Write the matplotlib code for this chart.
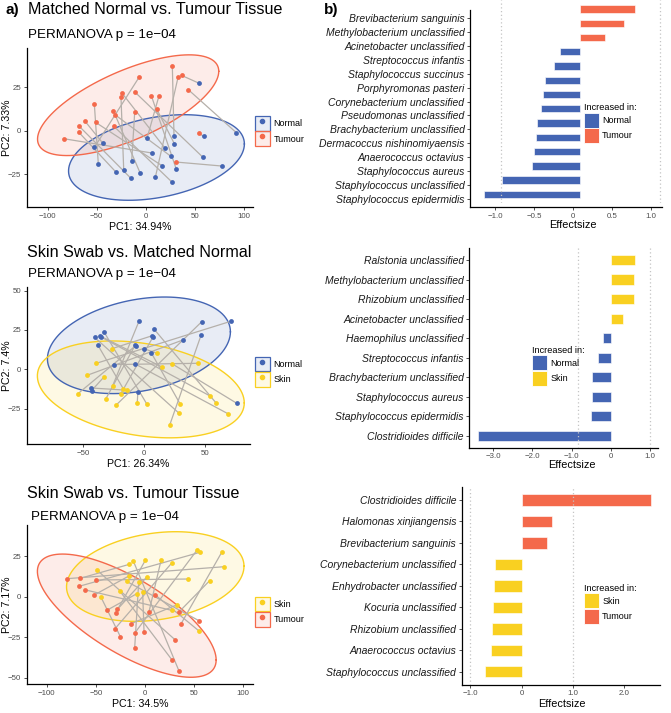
import numpy as np
import matplotlib
matplotlib.use('Agg')
import matplotlib.pyplot as plt
from matplotlib.patches import Patch
from matplotlib.lines import Line2D
from matplotlib.legend_handler import HandlerTuple
from matplotlib.colors import to_rgba

plt.rcParams['font.family'] = ['Liberation Sans', 'DejaVu Sans']

W, H = 671, 713

BLUE = '#4465b3'
RED = '#f4694b'
YELLOW = '#f9d021'
PAIRLINE = '#b5b0aa'

# ---- PCA data (PC1, PC2) ----
a1_tumour = np.array([
    [27.2, 37.0], [36.7, 31.8], [33.0, 30.7], [-6.8, 30.7], [-24.1, 21.6],
    [-25.2, 19.3], [-10.9, 22.2], [5.8, 20.1], [13.6, 20.1], [43.5, 23.6],
    [-52.4, 15.5], [-33.0, 11.5], [-31.3, 9.2], [-11.2, 10.7], [11.2, 12.5],
    [-62.2, 5.7], [-51.0, 4.8], [-68.0, 2.7], [-68.0, -1.0], [-32.7, 2.7],
    [-83.3, -4.6], [54.8, -1.5], [31.3, -18.0]])
a1_normal = np.array([
    [54.1, 27.4], [92.5, -1.1], [59.2, -3.3], [58.5, -15.3], [78.2, -20.3],
    [28.9, -3.1], [29.3, -7.5], [1.4, -4.2], [6.5, -12.8], [19.4, -9.8],
    [25.5, -14.6], [16.7, -20.1], [31.3, -22.2], [9.9, -26.6], [27.2, -29.7],
    [-5.8, -24.1], [-15.3, -27.2], [-22.4, -22.6], [-14.3, -17.6], [-30.6, -23.6],
    [-48.3, -19.3], [-52.4, -9.6], [-43.5, -7.3]])
# tumour sample i is paired with normal sample a1_pairs[i]
a1_pairs = [5, 0, 13, 21, 9, 17, 3, 12, 7, 1, 20, 15, 10, 18, 6, 22, 11, 16, 19, 14, 8, 2, 4]

a2_normal = np.array([
    [-4.1, 30.9], [46.9, 30.1], [70.8, 30.5], [8.2, 25.4], [6.0, 21.2],
    [7.4, 20.8], [46.6, 21.8], [31.6, 18.6], [-32.7, 23.5], [-35.1, 20.8],
    [-40.6, 20.3], [-37.9, 15.3], [-7.4, 15.3], [-0.3, 13.1], [5.7, 10.6],
    [-24.8, 3.0], [-7.9, 3.6], [-43.3, -11.9], [-43.1, -13.6], [-5.2, -14.4],
    [75.7, -21.6], [-36.5, 21.0], [-7.0, 15.0]])
a2_skin = np.array([
    [-26.4, 13.1], [10.6, 10.2], [-39.2, 3.8], [14.4, 1.5], [22.6, 3.6],
    [44.1, 3.8], [-46.6, -3.8], [-33.2, -5.1], [-25.9, -10.6], [-17.2, -12.3],
    [-14.4, -13.3], [-19.3, -15.7], [-54.2, -15.5], [-31.3, -18.6], [-22.9, -22.7],
    [-5.7, -21.4], [1.9, -21.8], [29.2, -21.8], [53.7, -16.9], [58.6, -21.2],
    [28.3, -27.8], [68.4, -28.2], [21.0, -35.2]])
# normal sample i is paired with skin sample a2_pairs[i]
a2_pairs = [8, 14, 2, 19, 0, 11, 22, 6, 16, 3, 20, 9, 13, 1, 17, 5, 21, 10, 7, 15, 4, 18, 12]

a3_skin = np.array([
    [52.9, 28.7], [55.6, 27.3], [78.0, 27.3], [80.7, 18.5], [-11.9, 22.0],
    [0.3, 22.4], [16.3, 22.4], [27.1, 20.7], [-16.3, 19.9], [-49.2, 16.6],
    [-16.6, 12.7], [-18.6, 9.4], [2.0, 12.3], [-6.4, 9.2], [44.1, 10.9],
    [65.8, 9.9], [-44.7, -0.4], [-25.4, 3.3], [-8.5, 1.8], [-2.4, 2.7],
    [32.2, -5.1], [27.1, -8.4], [54.9, -21.1]])
a3_tumour = np.array([
    [-79.7, 11.1], [-66.1, 11.3], [-50.2, 10.3], [-67.1, 6.4], [-61.4, 4.3],
    [-51.9, 1.0], [-38.3, -8.2], [-29.8, -9.9], [-28.1, -7.8], [-14.2, -16.6],
    [-30.8, -19.9], [-25.1, -24.6], [-10.2, -22.2], [-1.0, -21.6], [-10.5, -31.4],
    [4.1, -9.2], [10.2, 1.2], [34.9, -9.2], [36.6, -16.8], [30.5, -26.5],
    [27.5, -39.0], [34.6, -45.8], [54.9, -14.8]])
# skin sample i is paired with tumour sample a3_pairs[i]
a3_pairs = [12, 3, 18, 0, 21, 7, 15, 10, 1, 19, 5, 22, 8, 14, 2, 17, 11, 20, 6, 13, 9, 4, 16]

# ---- effect size data ----
b1_taxa = ['Brevibacterium sanguinis', 'Methylobacterium unclassified',
           'Acinetobacter unclassified', 'Streptococcus infantis',
           'Staphylococcus succinus', 'Porphyromonas pasteri',
           'Corynebacterium unclassified', 'Pseudomonas unclassified',
           'Brachybacterium unclassified', 'Dermacoccus nishinomiyaensis',
           'Anaerococcus octavius', 'Staphylococcus aureus',
           'Staphylococcus unclassified', 'Staphylococcus epidermidis']
b1_effect = [0.68, 0.54, 0.31, -0.26, -0.33, -0.44, -0.47, -0.50, -0.55,
             -0.555, -0.58, -0.61, -0.98, -1.215]

b2_taxa = ['Ralstonia unclassified', 'Methylobacterium unclassified',
           'Rhizobium unclassified', 'Acinetobacter unclassified',
           'Haemophilus unclassified', 'Streptococcus infantis',
           'Brachybacterium unclassified', 'Staphylococcus aureus',
           'Staphylococcus epidermidis', 'Clostridioides difficile']
b2_effect = [0.61, 0.59, 0.59, 0.30, -0.19, -0.34, -0.49, -0.49, -0.50, -3.39]

b3_taxa = ['Clostridioides difficile', 'Halomonas xinjiangensis',
           'Brevibacterium sanguinis', 'Corynebacterium unclassified',
           'Enhydrobacter unclassified', 'Kocuria unclassified',
           'Rhizobium unclassified', 'Anaerococcus octavius',
           'Staphylococcus unclassified']
b3_effect = [2.53, 0.59, 0.50, -0.52, -0.54, -0.56, -0.58, -0.59, -0.72]


def px_box(x0, y0, x1, y1):
    return [x0 / W, 1 - y1 / H, (x1 - x0) / W, (y1 - y0) / H]


def fx(x):
    return x / W


def fy(y):
    return 1 - y / H


def cov_trob(x, nu=5, maxit=25, tol=0.01):
    n, p = x.shape
    loc = x.mean(0)
    w = np.ones(n)
    X = x - loc
    for _ in range(maxit):
        w0 = w
        X = x - loc
        s = np.sqrt(w / w.sum())[:, None] * X
        _, d, vt = np.linalg.svd(s, full_matrices=False)
        wX = X @ vt.T / d
        Q = (wX ** 2).sum(1)
        w = (nu + p) / (nu + Q)
        loc = (w[:, None] * x).sum(0) / w.sum()
        if np.all(np.abs(w - w0) < tol):
            break
    sw = np.sqrt(w)[:, None] * X
    return loc, sw.T @ sw / n


def ellipse(pts, qf=3.443, seg=120):
    c, cov = cov_trob(pts)
    r = np.sqrt(2 * qf)
    L = np.linalg.cholesky(cov)
    t = np.linspace(0, 2 * np.pi, seg)
    circ = np.stack([np.cos(t), np.sin(t)])
    return c + r * (L @ circ).T


fig = plt.figure(figsize=(W / 100, H / 100), dpi=100)


def style_axes(ax):
    for s in ('top', 'right'):
        ax.spines[s].set_visible(False)
    for s in ('left', 'bottom'):
        ax.spines[s].set_linewidth(0.9)
        ax.spines[s].set_color('black')
    ax.tick_params(length=2.5, width=0.6, color='#333333', labelsize=5.7,
                   labelcolor='#4d4d4d', pad=1.5)


def pca_panel(box, xlim, ylim, xticks, yticks, g1, g2, pairs, c1, c2,
              names, xlab, ylab, leg_xy):
    ax = fig.add_axes(px_box(*box))
    for pts, col in ((g1, c1), (g2, c2)):
        e = ellipse(pts)
        ax.fill(e[:, 0], e[:, 1], color=col, alpha=0.12, lw=0, zorder=1)
        ax.plot(e[:, 0], e[:, 1], color=col, lw=1.0, zorder=2)
    for i, j in enumerate(pairs):
        ax.plot([g1[i, 0], g2[j, 0]], [g1[i, 1], g2[j, 1]],
                color=PAIRLINE, lw=0.9, zorder=3)
    ax.scatter(g1[:, 0], g1[:, 1], s=12, color=c1, lw=0, zorder=4)
    ax.scatter(g2[:, 0], g2[:, 1], s=12, color=c2, lw=0, zorder=4)
    ax.set_xlim(*xlim)
    ax.set_ylim(*ylim)
    ax.set_xticks(xticks)
    ax.set_yticks(yticks)
    style_axes(ax)
    ax.set_xlabel(xlab, fontsize=7.7, labelpad=1.5)
    y0, y1 = box[1], box[3]
    fig.text(fx(6.7), fy((y0 + y1) / 2), ylab, fontsize=7.7, rotation=90,
             ha='center', va='center')
    handles = [(Patch(facecolor=to_rgba(c, 0.12), edgecolor=c, lw=0.9),
                Line2D([], [], ls='', marker='o', ms=3, color=c))
               for c in (c1, c2)]
    ax.legend(handles, names, handler_map={tuple: HandlerTuple(ndivide=1, pad=0)},
              loc='upper left', bbox_to_anchor=(fx(leg_xy[0]), fy(leg_xy[1])),
              bbox_transform=fig.transFigure, frameon=False, fontsize=6.5,
              handlelength=1.66, handleheight=2.15, handletextpad=0.4,
              labelspacing=0.05, borderpad=0, borderaxespad=0)
    return ax


def bar_panel(box, xlim, xticks, xticklabels, taxa, effect, neg_col, pos_col,
              vlines, names, leg_xy, xlab_xy, overlay=None):
    ax = fig.add_axes(px_box(*box))
    n = len(taxa)
    ax.set_ylim(n - 0.4, -0.6)
    ax.set_yticks(range(n))
    ax.set_yticklabels(taxa)
    ax.set_xlim(*xlim)
    ax.set_xticks(xticks)
    ax.set_xticklabels(xticklabels)
    style_axes(ax)
    ax.tick_params(axis='y', labelsize=7.5, labelcolor='#1a1a1a')
    for t in ax.get_yticklabels():
        t.set_style('italic')
    ax.patch.set_alpha(0)

    # the bar layer of the first panel sits on a slightly offset panel
    bx = ax
    if overlay is not None:
        bx = fig.add_axes(px_box(*overlay[0]))
        bx.set_xlim(*overlay[1])
        bx.set_ylim(n - 0.4, -0.6)
        bx.axis('off')
    cols = [pos_col if v > 0 else neg_col for v in effect]
    bx.barh(range(n), effect, height=0.52, color=cols,
            edgecolor=(1, 1, 1, 0.7), lw=0.6, zorder=2)
    for v in vlines:
        bx.axvline(v, color='#c4c4c4', lw=0.9, ls=(0, (1, 2)), zorder=3)

    fig.text(fx(xlab_xy[0]), fy(xlab_xy[1]), 'Effectsize', fontsize=7.8,
             ha='center', va='center')
    handles = [Patch(facecolor=c, edgecolor='white', lw=0.6) for c in (neg_col, pos_col)]
    ax.legend(handles, names, title='Increased in:', loc='upper left',
              bbox_to_anchor=(fx(leg_xy[0]), fy(leg_xy[1])),
              bbox_transform=fig.transFigure, frameon=False, fontsize=6.5,
              title_fontsize=6.6, handlelength=1.66, handleheight=2.15,
              handletextpad=0.35, labelspacing=0.05, borderpad=0,
              borderaxespad=0, alignment='left')
    return ax


# ---- left column: PCA ----
fig.text(fx(5), fy(14), 'a)', fontsize=11, fontweight='bold', va='baseline')
fig.text(fx(28.3), fy(14), 'Matched Normal vs. Tumour Tissue', fontsize=11.6, va='baseline')
fig.text(fx(28.3), fy(37.7), 'PERMANOVA p = 1e\u221204', fontsize=9.6, va='baseline')
pca_panel((26.7, 48.3, 253.3, 207.3), (-121.4, 109.8), (-44.0, 47.4),
          [-100, -50, 0, 50, 100], [-25, 0, 25], a1_normal, a1_tumour,
          list(np.argsort(a1_pairs)),
          BLUE, RED, ['Normal', 'Tumour'], 'PC1: 34.94%', 'PC2: 7.33%', (255, 116))

fig.text(fx(27.3), fy(256.7), 'Skin Swab vs. Matched Normal', fontsize=11.6, va='baseline')
fig.text(fx(28.3), fy(277), 'PERMANOVA p = 1e\u221204', fontsize=9.6, va='baseline')
pca_panel((26.7, 286.7, 250, 444.3), (-96.2, 86.6), (-47.7, 52.5),
          [-50, 0, 50], [-25, 0, 25, 50], a2_normal, a2_skin, a2_pairs,
          BLUE, YELLOW, ['Normal', 'Skin'], 'PC1: 26.34%', 'PC2: 7.4%', (255, 356.5))

fig.text(fx(27.3), fy(497.7), 'Skin Swab vs. Tumour Tissue', fontsize=11.6, va='baseline')
fig.text(fx(30.7), fy(520), 'PERMANOVA p = 1e\u221204', fontsize=9.6, va='baseline')
pca_panel((26.7, 525, 253.3, 684.3), (-120.4, 110.2), (-54, 44.2),
          [-100, -50, 0, 50, 100], [-50, -25, 0, 25], a3_skin, a3_tumour, a3_pairs,
          YELLOW, RED, ['Skin', 'Tumour'], 'PC1: 34.5%', 'PC2: 7.17%', (255, 596.5))

# ---- right column: effect sizes ----
fig.text(fx(324), fy(14), 'b)', fontsize=11, fontweight='bold', va='baseline')
bar_panel((470, 10, 662, 207), (-1.32, 1.14), [-1, -0.5, 0, 0.5, 1],
          ['\u22121.0', '\u22120.5', '0', '0.5', '1.0'], b1_taxa, b1_effect,
          BLUE, RED, [-1, 1], ['Normal', 'Tumour'], (584, 103.5), (573, 225),
          overlay=((470, 0.4, 662, 202.9), (-1.386, 1.023)))
bar_panel((469.3, 248.3, 658.3, 447.5), (-3.61, 1.21), [-3, -2, -1, 0, 1],
          ['\u22123.0', '\u22122.0', '\u22121.0', '0', '1.0'], b2_taxa, b2_effect,
          BLUE, YELLOW, [-0.84, 1.0], ['Normal', 'Skin'], (532, 346), (571.7, 465))
bar_panel((461.7, 487.1, 660, 684.8), (-1.17, 2.70), [-1, 0, 1, 2],
          ['\u22121.0', '0', '1.0', '2.0'], b3_taxa, b3_effect,
          YELLOW, RED, [-1.0, 1.0], ['Skin', 'Tumour'], (584, 584), (561.7, 704.3))

fig.savefig('out.png', dpi=100)
